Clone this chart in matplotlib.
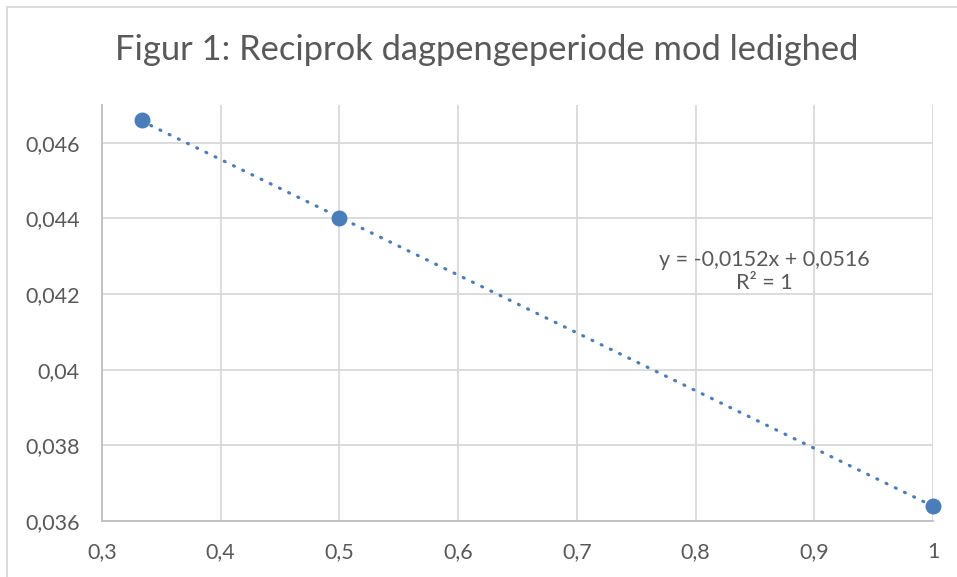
import numpy as np
import matplotlib
matplotlib.use("Agg")
import matplotlib.pyplot as plt
from matplotlib.lines import Line2D

# data
x_vals = [1 / 3, 0.5, 1.0]
y_vals = [0.0466, 0.0440, 0.0364]
x_ticks = [0.3, 0.4, 0.5, 0.6, 0.7, 0.8, 0.9, 1.0]
x_labels = ["0,3", "0,4", "0,5", "0,6", "0,7", "0,8", "0,9", "1"]
y_ticks = [0.036, 0.038, 0.040, 0.042, 0.044, 0.046]
y_labels = ["0,036", "0,038", "0,04", "0,042", "0,044", "0,046"]
title = "Figur 1: Reciprok dagpengeperiode mod ledighed"

plt.rcParams['font.family'] = ['Lato', 'DejaVu Sans']
blue = "#4a7ebb"
grey_txt = "#595959"
grid_col = "#d9d9d9"

fig = plt.figure(figsize=(9.57, 5.77), dpi=100)
ax = fig.add_axes([102 / 957, 1 - 521 / 577, (933 - 102) / 957, (521 - 105) / 577])

# linear trend line fitted from the points
slope, icpt = np.polyfit(x_vals, y_vals, 1)
tx = np.array([min(x_vals), max(x_vals)])
ax.plot(tx, slope * tx + icpt, color=blue, lw=2.3, linestyle=(0, (0.3, 2.9)),
        dash_capstyle="round", zorder=2)
ax.plot(x_vals, y_vals, "o", color=blue, markersize=10.5, zorder=3, clip_on=False)

ax.set_xlim(0.3, 1.0)
ax.set_ylim(0.036, 0.047)
ax.set_xticks(x_ticks)
ax.set_xticklabels(x_labels)
ax.set_yticks(y_ticks)
ax.set_yticklabels(y_labels)
ax.tick_params(length=0, labelsize=15.5, colors=grey_txt)
ax.tick_params(axis="y", pad=16)
ax.tick_params(axis="x", pad=15)
ax.grid(True, color=grid_col, lw=1.3)
ax.set_axisbelow(True)
for s in ["top", "right"]:
    ax.spines[s].set_visible(False)
for s in ["left", "bottom"]:
    ax.spines[s].set_color("#bfbfbf")
    ax.spines[s].set_linewidth(1.3)

fig.text(487 / 957, 1 - 50 / 577, title, ha="center", va="center",
         fontsize=24.8, color=grey_txt)
ax.text(0.858, 0.0426, "y = -0,0152x + 0,0516\nR² = 1", ha="center", va="center",
        fontsize=15.5, color=grey_txt, linespacing=1.2)

# outer chart border
fig.add_artist(Line2D([7 / 957, 1], [1 - 7 / 577, 1 - 7 / 577], color=grid_col, lw=1.3))
fig.add_artist(Line2D([7 / 957, 7 / 957], [0, 1 - 7 / 577], color=grid_col, lw=1.3))

fig.savefig("out.png", dpi=100)
